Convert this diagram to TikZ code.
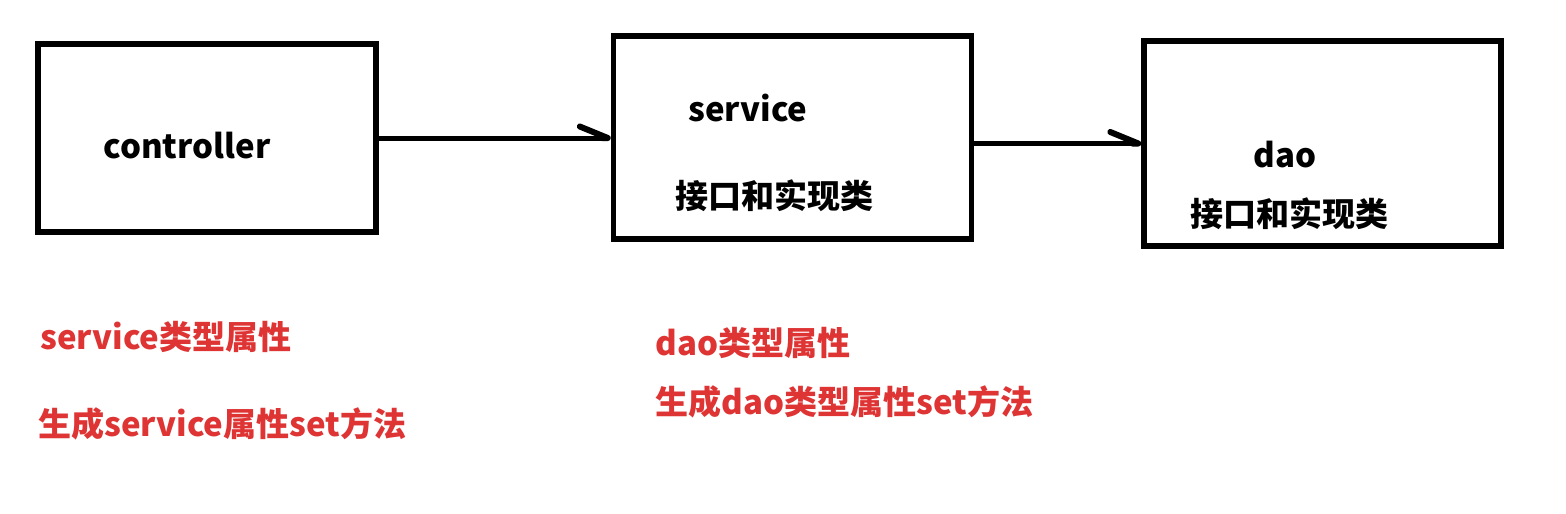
\documentclass[tikz,border=0pt]{standalone}
\usepackage{fontspec}
\setmainfont{Noto Sans CJK SC}
\usepackage{xcolor}
\usetikzlibrary{arrows.meta}
\definecolor{notered}{RGB}{222,52,52}

\begin{document}
\begin{tikzpicture}[x=0.02cm,y=0.02cm,
  box/.style={draw,line width=0.11cm,inner sep=0pt},
  lbl/.style={anchor=base west,inner sep=0pt,font=\fontsize{18.8}{22}\selectfont\bfseries},
  note/.style={lbl,text=notered},
  arr/.style={line width=0.1cm,-{Straight Barb[left,round,length=0.56cm,width=0.46cm,line width=0.12cm]}}]
  \useasboundingbox (0,0) rectangle (1566,-514);
  \node [box,minimum width=6.76cm,minimum height=3.76cm] (ctrl) at (207,-138) {};
  \node [box,minimum width=7.16cm,minimum height=4.06cm] (svc) at (792.5,-137.5) {};
  \node [box,minimum width=7.14cm,minimum height=4.10cm] (dao) at (1322.5,-143.5) {};
  \draw [arr] (ctrl.east) -- (ctrl.east -| svc.west);
  \draw [arr] (dao.west -| svc.east) -- (dao.west);
  \node [lbl] (ctrltxt) at (103,-158) {controller};
  \node [lbl] (svctxt) at (688,-121) {service};
  \node [lbl] (svcimpl) at (675,-208) {接口和实现类};
  \node [lbl] (daotxt) at (1253,-167) {dao};
  \node [lbl] (daoimpl) at (1190,-226) {接口和实现类};
  \node [note] (svcprop) at (40,-349) {service类型属性};
  \node [note] (svcset) at (38,-436) {生成service属性set方法};
  \node [note] (daoprop) at (655,-355) {dao类型属性};
  \node [note] (daoset) at (655,-414) {生成dao类型属性set方法};
\end{tikzpicture}
\end{document}
